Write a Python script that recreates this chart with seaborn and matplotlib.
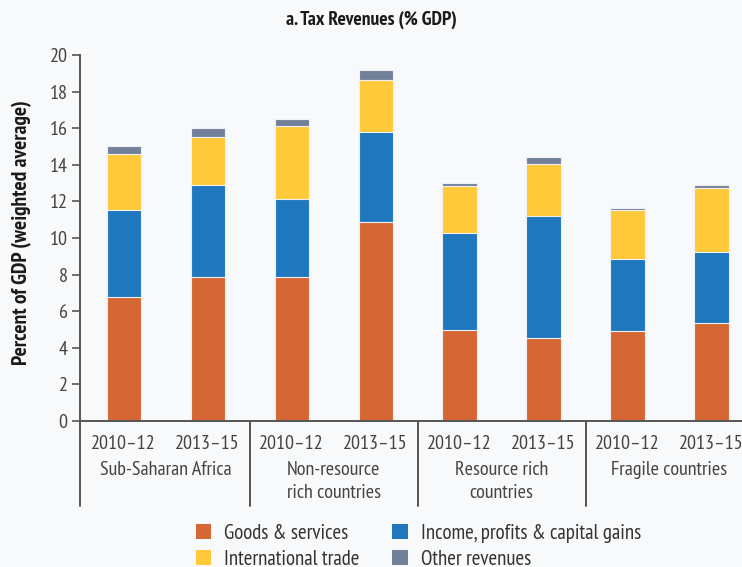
import matplotlib
matplotlib.use('Agg')
import matplotlib.pyplot as plt
import matplotlib.transforms as mtransforms
import numpy as np
import pandas as pd
import seaborn as sns

periods = ['2010–12', '2013–15'] * 4
groups = ['Sub-Saharan Africa', 'Non-resource\nrich countries',
          'Resource rich\ncountries', 'Fragile countries']
goods = [6.8, 7.85, 7.85, 10.85, 5.0, 4.55, 4.9, 5.35]
income = [4.75, 5.05, 4.3, 4.95, 5.25, 6.65, 3.95, 3.9]
trade = [3.05, 2.6, 3.95, 2.85, 2.6, 2.85, 2.7, 3.5]
other = [0.45, 0.5, 0.4, 0.55, 0.15, 0.4, 0.08, 0.15]

series = ['Goods & services', 'Income, profits & capital gains',
          'International trade', 'Other revenues']
colors = ['#d46733', '#1f77bd', '#ffc93a', '#72809a']

bg = '#f7f9fb'
sns.set_style('ticks')
plt.rcParams['font.family'] = ['PT Sans Narrow', 'DejaVu Sans']
plt.rcParams['text.color'] = '#333333'

keys = [f'{i}' for i in range(len(goods))]
df = pd.DataFrame({'key': keys, 'g': goods, 'i': income, 't': trade, 'o': other})
df['c1'] = df['g']
df['c2'] = df['c1'] + df['i']
df['c3'] = df['c2'] + df['t']
df['c4'] = df['c3'] + df['o']

fig = plt.figure(figsize=(7.42, 5.67), dpi=100, facecolor=bg)
ax = fig.add_axes([80 / 742, 1 - 421 / 567, 662 / 742, 366 / 567])
ax.set_facecolor(bg)

handles = {}
for col, name, color in zip(['c4', 'c3', 'c2', 'c1'], series[::-1], colors[::-1]):
    sns.barplot(data=df, x='key', y=col, order=keys, color=color, width=0.405,
                edgecolor='#eef0f3', linewidth=0.8, saturation=1, ax=ax)
    handles[name] = plt.Rectangle((0, 0), 1, 1, facecolor=color, edgecolor='none')

ax.set_xlim(-0.518, 7.363)
ax.set_ylim(0, 20)
ax.set_yticks(np.arange(0, 21, 2))
ax.set_xticks(range(len(keys)))
ax.set_xticklabels(periods)
ax.set_xlabel('')
ax.set_ylabel('Percent of GDP (weighted average)', fontsize=15.5, fontweight='bold',
              color='#1a1a1a')
ax.yaxis.set_label_coords(-0.0725, 0.515)
ax.set_title('a. Tax Revenues (% GDP)', fontsize=14, fontweight='bold',
             pad=22, color='#1a1a1a', x=(371 - 80) / 662)

for s in ['top', 'right']:
    ax.spines[s].set_visible(False)
for s in ['left', 'bottom']:
    ax.spines[s].set_color('#555555')
    ax.spines[s].set_linewidth(1.4)
ax.tick_params(axis='y', length=6, width=1.2, color='#555555', labelsize=14.5,
               labelcolor='#444444', pad=3)
ax.tick_params(axis='x', length=0, labelsize=14.5, labelcolor='#444444', pad=10)

trans = mtransforms.blended_transform_factory(ax.transData, ax.transAxes)
for xs in [-0.518, 1.5, 3.5, 5.5]:
    ax.plot([xs, xs], [0, -0.232], transform=trans, color='#555555',
            linewidth=1.4, clip_on=False)
for k, g in enumerate(groups):
    ax.text(2 * k + 0.5, -0.108, g, transform=trans, ha='center', va='top',
            fontsize=14.5, color='#444444', linespacing=1.4)

order = [series[0], series[2], series[1], series[3]]
fig.legend([handles[n] for n in order], order, ncol=2, loc='upper left',
           bbox_to_anchor=(181 / 742, 1 - 509 / 567), frameon=False,
           fontsize=15, handlelength=0.75, handleheight=0.75, handletextpad=0.6,
           columnspacing=1.6, labelspacing=0.35, borderpad=0.2)

fig.savefig('out.png', dpi=100, facecolor=bg)
